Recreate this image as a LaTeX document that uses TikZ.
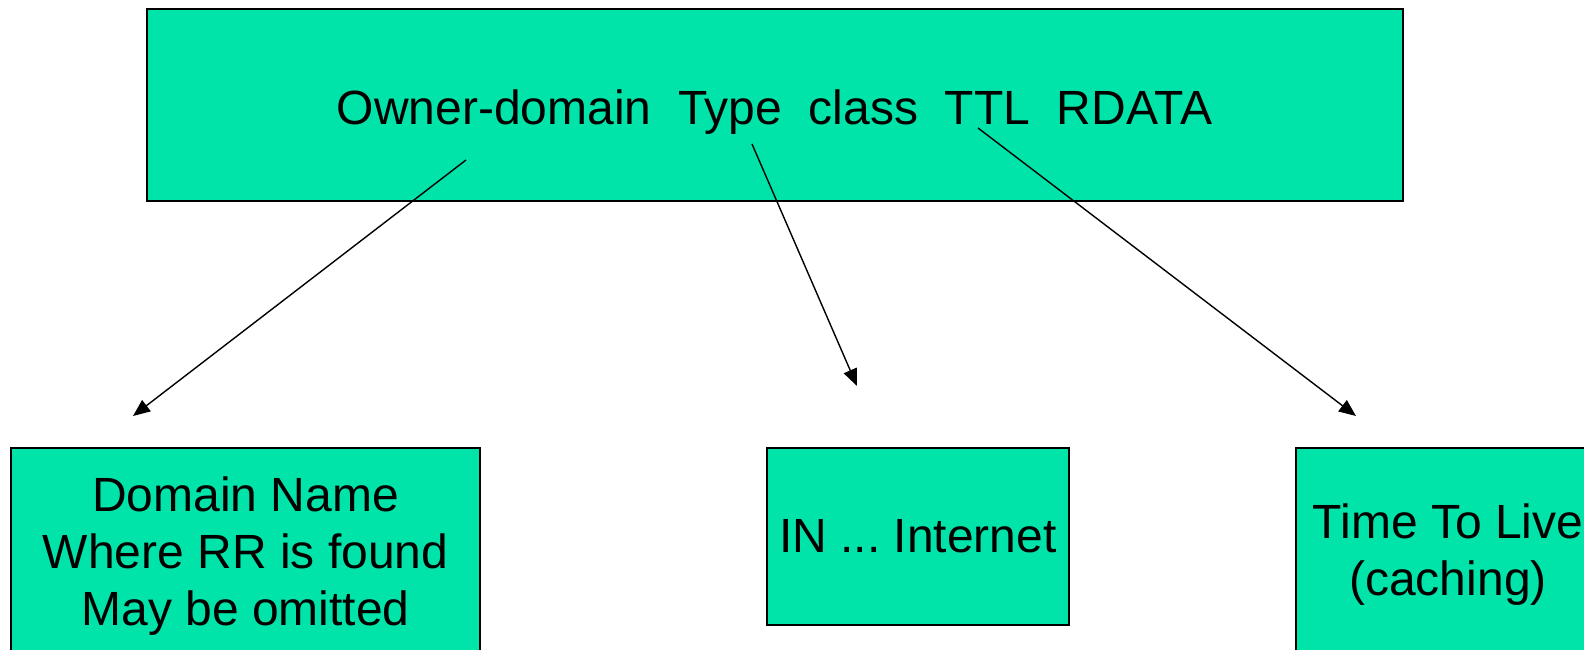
\documentclass[tikz,border=0pt]{standalone}
\usepackage{fontspec}
\setmainfont{Liberation Sans}
\frenchspacing
\usetikzlibrary{arrows.meta}
\definecolor{boxgreen}{RGB}{0,228,170}
\tikzset{
  fieldbox/.style={draw=black, line width=2pt, fill=boxgreen, rectangle,
    inner sep=0pt, outer sep=0pt, align=center,
    font=\fontsize{48}{57}\selectfont},
  pointer/.style={draw=black, line width=1.4pt,
    -{Triangle[length=17pt,width=14pt]}}
}
\begin{document}
\begin{tikzpicture}[x=1pt,y=-1pt]
  \useasboundingbox (0,0) rectangle (1584,649);
  \clip (0,0) rectangle (1584,649);

  % resource record format
  \node[fieldbox, minimum width=1256pt, minimum height=192pt] (rr) at (774.7,104.9) {};
  \node[font=\fontsize{48}{57}\selectfont, anchor=base, inner sep=0pt] (rrtext) at (774.7,124)
    {Owner-domain\ \ Type\ \ class\ \ TTL\ \ RDATA};

  % explanation boxes (the lower edges of the outer two lie below the page)
  \node[fieldbox, minimum width=469pt, minimum height=216pt] (owner) at (245.5,555.9)
    {Domain Name\\Where RR is found\\May be omitted};
  \node[fieldbox, minimum width=302pt, minimum height=177pt] (class) at (917.9,536.3)
    {IN ... Internet};
  \node[fieldbox, minimum width=304pt, minimum height=214pt] (ttl) at (1448,554.9)
    {Time To Live\\(caching)};

  % arrow ends
  \coordinate (ownerfrom) at (466,160);
  \coordinate (ownerto) at (133,416);
  \coordinate (classfrom) at (752,144);
  \coordinate (classto) at (857,386);
  \coordinate (ttlfrom) at (978,128);
  \coordinate (ttlto) at (1356,416);

  \draw[pointer] (ownerfrom) -- (ownerto);
  \draw[pointer] (classfrom) -- (classto);
  \draw[pointer] (ttlfrom) -- (ttlto);
\end{tikzpicture}
\end{document}
